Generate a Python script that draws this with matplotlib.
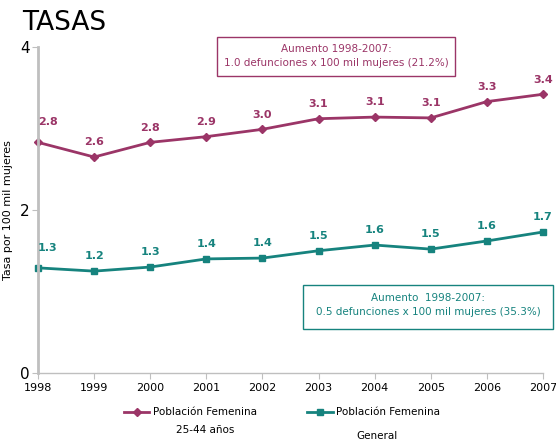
import matplotlib.pyplot as plt
from matplotlib.lines import Line2D
from matplotlib.patches import Rectangle

years = [1998, 1999, 2000, 2001, 2002, 2003, 2004, 2005, 2006, 2007]
tasa_25_44 = [2.83, 2.65, 2.83, 2.90, 2.99, 3.12, 3.14, 3.13, 3.33, 3.42]
tasa_general = [1.29, 1.25, 1.30, 1.40, 1.41, 1.50, 1.57, 1.52, 1.62, 1.73]
labels_25_44 = ["2.8", "2.6", "2.8", "2.9", "3.0", "3.1", "3.1", "3.1", "3.3", "3.4"]
labels_general = ["1.3", "1.2", "1.3", "1.4", "1.4", "1.5", "1.6", "1.5", "1.6", "1.7"]

PURPLE = "#9b3567"
TEAL = "#16837e"
GRAY = "#bfbfbf"

fig = plt.figure(figsize=(5.56, 4.40), dpi=100)
ax = fig.add_axes([38 / 556, 67 / 440, 505 / 556, 326 / 440])

ax.plot(years, tasa_25_44, color=PURPLE, lw=2, marker="D", ms=4, clip_on=False)
ax.plot(years, tasa_general, color=TEAL, lw=2, marker="s", ms=5, clip_on=False)

for i, (x, y) in enumerate(zip(years, tasa_25_44)):
    dx, dy = (7, 11) if i == 0 else (0, 7)
    ax.annotate(labels_25_44[i], (x, y), xytext=(dx, dy), textcoords="offset points",
                ha="center", va="bottom", color=PURPLE, fontsize=8, fontweight="bold")
for i, (x, y) in enumerate(zip(years, tasa_general)):
    dx, dy = (7, 11) if i == 0 else (0, 7)
    ax.annotate(labels_general[i], (x, y), xytext=(dx, dy), textcoords="offset points",
                ha="center", va="bottom", color=TEAL, fontsize=8, fontweight="bold")

ax.set_xlim(1998, 2007)
ax.set_ylim(0, 4)
ax.set_xticks(years)
ax.set_xticklabels([str(y) for y in years], fontsize=8)
ax.set_yticks([0, 2, 4])
ax.tick_params(axis="y", labelsize=11, length=4, color=GRAY, pad=2)
ax.tick_params(axis="x", length=4, color=GRAY, pad=3)
for s in ["top", "right"]:
    ax.spines[s].set_visible(False)
ax.spines["left"].set_color(GRAY)
ax.spines["left"].set_linewidth(2)
ax.spines["bottom"].set_color(GRAY)
ax.spines["bottom"].set_linewidth(1)
ax.set_ylabel("Tasa por 100 mil mujeres", fontsize=8)
ax.yaxis.set_label_coords(-25 / 505, 0.5)

fig.text(22 / 556, 1 - 23 / 440, "TASAS", fontsize=19, va="center", ha="left")

# annotation boxes
fig.patches.append(Rectangle((217 / 556, 1 - 76 / 440), 238 / 556, 39 / 440,
                             transform=fig.transFigure, fill=False, ec=PURPLE, lw=1))
fig.text(336 / 556, 1 - 56 / 440, "Aumento 1998-2007:\n1.0 defunciones x 100 mil mujeres (21.2%)",
         ha="center", va="center", fontsize=7.5, color=PURPLE, linespacing=1.5)
fig.patches.append(Rectangle((303 / 556, 1 - 329 / 440), 250 / 556, 44 / 440,
                             transform=fig.transFigure, fill=False, ec=TEAL, lw=1))
fig.text(428 / 556, 1 - 305 / 440, "Aumento  1998-2007:\n0.5 defunciones x 100 mil mujeres (35.3%)",
         ha="center", va="center", fontsize=7.5, color=TEAL, linespacing=1.5)

# legend
fig.add_artist(Line2D([124 / 556, 149 / 556], [1 - 412 / 440] * 2, color=PURPLE, lw=2,
                      transform=fig.transFigure))
fig.add_artist(Line2D([136.5 / 556], [1 - 412 / 440], color=PURPLE, marker="D", ms=4,
                      transform=fig.transFigure))
fig.text(153 / 556, 1 - 412 / 440, "Población Femenina", fontsize=7.5, va="center")
fig.text(205 / 556, 1 - 430 / 440, "25-44 años", fontsize=7.5, va="center", ha="center")
fig.add_artist(Line2D([307 / 556, 333 / 556], [1 - 412 / 440] * 2, color=TEAL, lw=2,
                      transform=fig.transFigure))
fig.add_artist(Line2D([320 / 556], [1 - 412 / 440], color=TEAL, marker="s", ms=5,
                      transform=fig.transFigure))
fig.text(336 / 556, 1 - 412 / 440, "Población Femenina", fontsize=7.5, va="center")
fig.text(377 / 556, 1 - 436 / 440, "General", fontsize=7.5, va="center", ha="center")

fig.savefig("out.png", dpi=100)
